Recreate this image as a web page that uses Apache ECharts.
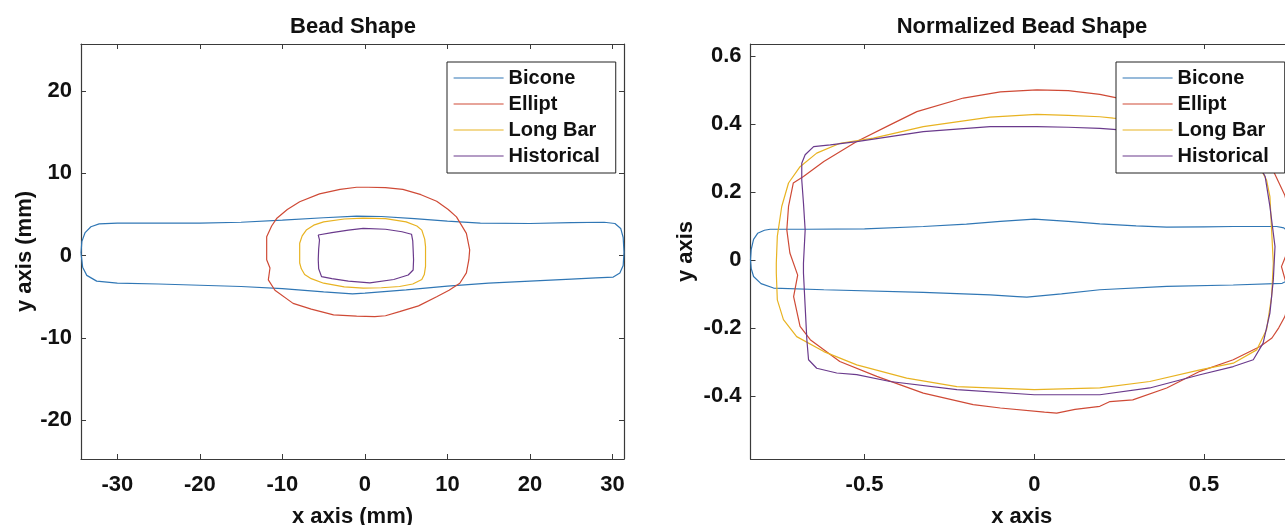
<!DOCTYPE html>
<html>
<head>
<meta charset="utf-8">
<script src="https://cdn.jsdelivr.net/npm/echarts@6/dist/echarts.min.js"></script>
<style>
html,body{margin:0;padding:0;background:#fff;}
#chart{width:1285px;height:525px;}
</style>
</head>
<body>
<div id="chart"></div>
<script>
// ---------- data ----------
const seriesNames = ['Bicone', 'Ellipt', 'Long Bar', 'Historical'];
const seriesColors = ['#3077B5', '#CF4A36', '#E8B322', '#6A3A8C'];

// Left plot: Bead Shape (mm)
const xTicksMm = [-30, -20, -10, 0, 10, 20, 30];
const yTicksMm = [-20, -10, 0, 10, 20];

const biconeMm = [[-34.4,0.3],[-34.3,1.7],[-33.9,2.8],[-33.2,3.5],[-32.2,3.85],[-30,3.95],[-25,3.95],[-20,3.95],[-15,4.05],[-10,4.3],[-5,4.6],[-1,4.8],[2,4.75],[6,4.5],[10,4.2],[14,3.95],[20,3.9],[25,4.0],[29,4.05],[30.3,3.9],[31.0,3.3],[31.3,2.2],[31.4,0.4],[31.3,-1.2],[30.9,-2.1],[30.1,-2.6],[28,-2.7],[25,-2.85],[20,-3.1],[15,-3.35],[10,-3.7],[5,-4.15],[0,-4.55],[-1.5,-4.65],[-5,-4.4],[-10,-4.0],[-15,-3.75],[-20,-3.6],[-25,-3.45],[-30,-3.35],[-32.5,-3.1],[-33.7,-2.4],[-34.2,-1.4],[-34.4,0.3]];
const elliptMm = [[0.4,8.3],[2.5,8.25],[4.6,8.05],[6.8,7.4],[8.7,6.6],[10.1,5.6],[11.1,4.7],[12.3,2.7],[12.7,0.7],[12.6,-0.5],[12.3,-2.1],[11.5,-3.35],[10.2,-4.2],[8.7,-5.0],[6.5,-6.1],[4.2,-6.8],[2.5,-7.3],[1.2,-7.4],[-1,-7.35],[-3.8,-7.2],[-6.5,-6.5],[-8.7,-5.8],[-10.9,-4.2],[-11.7,-2.95],[-11.5,-1.5],[-11.9,-0.5],[-11.9,1.0],[-11.9,2.3],[-11.3,3.6],[-10.7,4.5],[-9.4,5.6],[-7.9,6.55],[-5.5,7.5],[-3,8.05],[-1,8.3],[0.4,8.3]];
const longBarMm = [[-0.2,4.55],[2.5,4.5],[5.0,4.1],[6.3,3.6],[6.9,3.1],[7.25,2.0],[7.35,1.1],[7.35,-1.3],[7.2,-2.3],[6.9,-2.9],[5.8,-3.45],[4.2,-3.75],[2,-3.9],[-0.2,-3.95],[-2.5,-3.8],[-5.0,-3.35],[-6.5,-2.8],[-7.3,-2.3],[-7.7,-1.6],[-7.9,-0.9],[-7.9,1.5],[-7.6,2.4],[-7.1,3.1],[-6.2,3.7],[-5.0,4.1],[-2.5,4.45],[-0.2,4.55]];
const historicalMm = [[-0.2,3.3],[2.5,3.2],[4.5,2.9],[5.65,2.6],[5.8,1.8],[5.85,0.7],[5.9,-0.5],[5.85,-1.75],[5.25,-2.35],[3.5,-2.9],[0.6,-3.3],[-2,-3.1],[-4,-2.8],[-5.25,-2.55],[-5.6,-1.6],[-5.65,-0.5],[-5.6,0.8],[-5.5,1.9],[-5.65,2.5],[-4,2.8],[-2,3.1],[-0.2,3.3]];

// Right plot: Normalized Bead Shape
const xTicksN = [-0.5, 0, 0.5];
const yTicksN = [-0.4, -0.2, 0, 0.2, 0.4, 0.6];

const biconeN = [[-0.836,0.0],[-0.834,0.03],[-0.827,0.06],[-0.815,0.078],[-0.795,0.087],[-0.778,0.09],[-0.67,0.09],[-0.5,0.091],[-0.327,0.098],[-0.2,0.105],[-0.1,0.113],[0,0.12],[0.1,0.113],[0.193,0.106],[0.3,0.1],[0.39,0.096],[0.5,0.097],[0.586,0.098],[0.714,0.098],[0.735,0.094],[0.75,0.08],[0.758,0.055],[0.762,0.02],[0.76,-0.02],[0.755,-0.045],[0.745,-0.062],[0.73,-0.069],[0.586,-0.074],[0.39,-0.078],[0.193,-0.088],[0.08,-0.1],[-0.022,-0.11],[-0.05,-0.108],[-0.13,-0.103],[-0.327,-0.096],[-0.62,-0.088],[-0.768,-0.083],[-0.805,-0.07],[-0.827,-0.049],[-0.834,-0.025],[-0.836,0.0]];
const elliptN = [[0.007,0.5],[0.1,0.498],[0.193,0.487],[0.25,0.475],[0.4,0.43],[0.52,0.38],[0.62,0.33],[0.7,0.27],[0.738,0.19],[0.755,0.12],[0.762,0.05],[0.74,0.01],[0.728,-0.02],[0.742,-0.07],[0.752,-0.12],[0.738,-0.167],[0.72,-0.2],[0.7,-0.23],[0.665,-0.255],[0.586,-0.294],[0.488,-0.328],[0.39,-0.377],[0.29,-0.412],[0.223,-0.417],[0.193,-0.431],[0.12,-0.44],[0.066,-0.451],[0.03,-0.448],[-0.1,-0.436],[-0.18,-0.426],[-0.327,-0.392],[-0.464,-0.343],[-0.573,-0.299],[-0.66,-0.235],[-0.69,-0.196],[-0.709,-0.108],[-0.697,-0.045],[-0.72,0.02],[-0.729,0.088],[-0.724,0.157],[-0.71,0.226],[-0.68,0.245],[-0.62,0.289],[-0.523,0.348],[-0.425,0.397],[-0.346,0.436],[-0.209,0.476],[-0.1,0.494],[0.007,0.5]];
const longBarN = [[0.007,0.428],[0.1,0.425],[0.193,0.421],[0.233,0.417],[0.4,0.405],[0.55,0.37],[0.65,0.3],[0.684,0.235],[0.694,0.186],[0.699,0.088],[0.704,-0.01],[0.699,-0.108],[0.684,-0.206],[0.655,-0.265],[0.586,-0.304],[0.488,-0.324],[0.34,-0.358],[0.193,-0.377],[0,-0.382],[-0.228,-0.373],[-0.376,-0.348],[-0.523,-0.309],[-0.62,-0.27],[-0.7,-0.226],[-0.739,-0.176],[-0.757,-0.118],[-0.76,-0.039],[-0.76,-0.01],[-0.757,0.069],[-0.744,0.157],[-0.724,0.226],[-0.69,0.274],[-0.641,0.314],[-0.572,0.343],[-0.474,0.358],[-0.327,0.392],[-0.13,0.42],[0.007,0.428]];
const historicalN = [[0.007,0.392],[0.1,0.39],[0.193,0.387],[0.233,0.384],[0.4,0.37],[0.55,0.34],[0.65,0.3],[0.68,0.245],[0.694,0.157],[0.709,0.039],[0.704,-0.059],[0.694,-0.157],[0.674,-0.245],[0.645,-0.294],[0.586,-0.314],[0.488,-0.338],[0.34,-0.377],[0.193,-0.397],[0,-0.397],[-0.228,-0.382],[-0.425,-0.358],[-0.523,-0.338],[-0.582,-0.333],[-0.641,-0.319],[-0.665,-0.294],[-0.67,-0.235],[-0.675,-0.137],[-0.68,-0.039],[-0.68,-0.01],[-0.675,0.088],[-0.68,0.167],[-0.685,0.235],[-0.685,0.284],[-0.675,0.309],[-0.65,0.333],[-0.601,0.338],[-0.523,0.348],[-0.327,0.377],[-0.13,0.392],[0.007,0.392]];

// ---------- chart ----------
const FONT = '"Liberation Sans", Arial, Helvetica, sans-serif';
const AXIS_COLOR = '#3a3a3a';
const TEXT_COLOR = '#111';

function makeAxis(opts) {
  const a = {
    type: 'value',
    gridIndex: opts.grid,
    position: opts.position,
    min: opts.min,
    max: opts.max,
    splitLine: { show: false },
    axisLine: { show: true, onZero: false, lineStyle: { color: AXIS_COLOR, width: 1.2 } },
    axisTick: { show: true, inside: true, length: 5, customValues: opts.ticks, lineStyle: { color: AXIS_COLOR, width: 1 } },
    axisLabel: {
      show: !!opts.labels,
      customValues: opts.ticks,
      margin: opts.margin || 10,
      color: TEXT_COLOR,
      fontFamily: FONT,
      fontWeight: 'bold',
      fontSize: 22
    }
  };
  if (opts.name) {
    a.name = opts.name;
    a.nameLocation = 'middle';
    a.nameGap = opts.nameGap;
    a.nameRotate = opts.nameRotate;
    a.nameTextStyle = { color: TEXT_COLOR, fontFamily: FONT, fontWeight: 'bold', fontSize: 22 };
  }
  return a;
}

const leftSets = [biconeMm, elliptMm, longBarMm, historicalMm];
const rightSets = [biconeN, elliptN, longBarN, historicalN];

const series = [];
leftSets.forEach((d, i) => series.push({
  name: seriesNames[i], type: 'line', xAxisIndex: 0, yAxisIndex: 0,
  data: d, symbol: 'none', smooth: false, animation: false,
  lineStyle: { color: seriesColors[i], width: 1.2 }, itemStyle: { color: seriesColors[i] }
}));
rightSets.forEach((d, i) => series.push({
  name: seriesNames[i], type: 'line', xAxisIndex: 2, yAxisIndex: 2,
  data: d, symbol: 'none', smooth: false, animation: false,
  lineStyle: { color: seriesColors[i], width: 1.2 }, itemStyle: { color: seriesColors[i] }
}));

function makeLegend(left) {
  return {
    data: seriesNames,
    orient: 'vertical',
    left: left, top: 62,
    itemWidth: 50, itemHeight: 20, itemGap: 6,
    padding: [6, 16, 7, 6],
    borderColor: '#222', borderWidth: 1, borderRadius: 0,
    backgroundColor: '#fff',
    selectedMode: false,
    itemStyle: { opacity: 0 },
    lineStyle: { width: 1.2 },
    textStyle: { color: TEXT_COLOR, fontFamily: FONT, fontWeight: 'bold', fontSize: 20 }
  };
}

const option = {
  backgroundColor: '#fff',
  animation: false,
  title: [
    { text: 'Bead Shape', left: 353, top: 16, textAlign: 'center', padding: 0,
      textStyle: { color: TEXT_COLOR, fontFamily: FONT, fontWeight: 'bold', fontSize: 22 } },
    { text: 'Normalized Bead Shape', left: 1022, top: 16, textAlign: 'center', padding: 0,
      textStyle: { color: TEXT_COLOR, fontFamily: FONT, fontWeight: 'bold', fontSize: 22 } }
  ],
  grid: [
    { left: 81, right: 661, top: 44, bottom: 66, containLabel: false, outerBoundsMode: 'none' },
    { left: 750.5, right: -8, top: 44, bottom: 66, containLabel: false, outerBoundsMode: 'none' }
  ],
  legend: [makeLegend(447), makeLegend(1116)],
  xAxis: [
    makeAxis({ grid: 0, position: 'bottom', min: -34.4, max: 31.4, ticks: xTicksMm, labels: true, margin: 15, name: 'x axis (mm)', nameGap: 47 }),
    makeAxis({ grid: 0, position: 'top', min: -34.4, max: 31.4, ticks: xTicksMm, labels: false }),
    makeAxis({ grid: 1, position: 'bottom', min: -0.836, max: 0.762, ticks: xTicksN, labels: true, margin: 15, name: 'x axis', nameGap: 47 }),
    makeAxis({ grid: 1, position: 'top', min: -0.836, max: 0.762, ticks: xTicksN, labels: false })
  ],
  yAxis: [
    makeAxis({ grid: 0, position: 'left', min: -24.7, max: 25.7, ticks: yTicksMm, labels: true, margin: 9, name: 'y axis (mm)', nameGap: 45, nameRotate: 90 }),
    makeAxis({ grid: 0, position: 'right', min: -24.7, max: 25.7, ticks: yTicksMm, labels: false }),
    makeAxis({ grid: 1, position: 'left', min: -0.586, max: 0.635, ticks: yTicksN, labels: true, margin: 9, name: 'y axis', nameGap: 54, nameRotate: 90 }),
    makeAxis({ grid: 1, position: 'right', min: -0.586, max: 0.635, ticks: yTicksN, labels: false })
  ],
  series: series
};

const chart = echarts.init(document.getElementById('chart'), null, { renderer: 'canvas' });
chart.setOption(option);
</script>
</body>
</html>
